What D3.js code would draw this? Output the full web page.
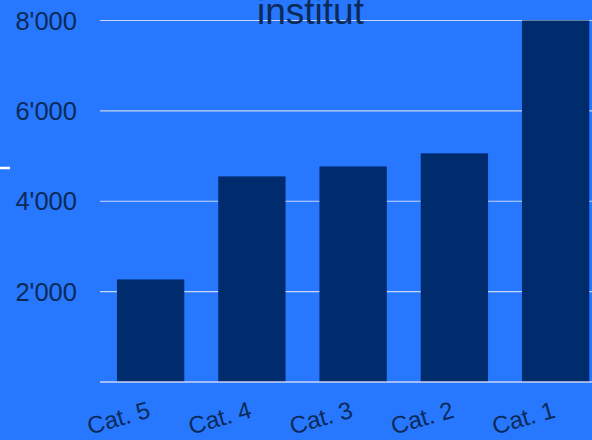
<!DOCTYPE html>
<html><head><meta charset="utf-8">
<script src="https://cdn.jsdelivr.net/npm/d3@7/dist/d3.min.js"></script>
<style>html,body{margin:0;padding:0;background:#2777FF;overflow:hidden}</style>
</head><body>
<svg id="c" width="592" height="440"></svg>
<script>
const categories = ["Cat. 5","Cat. 4","Cat. 3","Cat. 2","Cat. 1"];
const values = [2270, 4550, 4770, 5060, 8000];
const yTicks = [2000, 4000, 6000, 8000];
const yTickLabels = ["2'000","4'000","6'000","8'000"];
const title = "institut";

const svg = d3.select("#c");
svg.append("rect").attr("width",592).attr("height",440).attr("fill","#2777FF");

const x = d3.scaleBand().domain(categories).range([100, 606.25]).paddingInner(0.335).paddingOuter(0.1675);
const y = d3.scaleLinear().domain([0, 8000]).range([382, 20.5]);

const textCol = "#0B2A57";
const grid = svg.append("g");
grid.selectAll("line").data(yTicks).join("line")
  .attr("x1",100).attr("x2",592)
  .attr("y1",d=>y(d)).attr("y2",d=>y(d))
  .attr("stroke","#C8D6F5").attr("stroke-width",1.2);

svg.append("g").selectAll("rect").data(values).join("rect")
  .attr("x",(d,i)=>x(categories[i]))
  .attr("width",x.bandwidth())
  .attr("y",d=>y(d))
  .attr("height",d=>y(0)-y(d))
  .attr("fill","#002B6C");

svg.append("line").attr("x1",100).attr("x2",592).attr("y1",y(0)).attr("y2",y(0))
  .attr("stroke","#C8D6F5").attr("stroke-width",1.5);

svg.append("g").selectAll("text").data(yTicks).join("text")
  .attr("x",77).attr("y",d=>y(d))
  .attr("text-anchor","end").attr("dominant-baseline","central")
  .attr("font-family","Liberation Sans, Arial, sans-serif").attr("font-size",25.5)
  .attr("fill",textCol)
  .text((d,i)=>yTickLabels[i]);

svg.append("g").selectAll("text").data(categories).join("text")
  .attr("transform",d=>`translate(${x(d)+x.bandwidth()/2+1},${417}) rotate(-16)`)
  .attr("text-anchor","end")
  .attr("font-family","Liberation Sans, Arial, sans-serif").attr("font-size",24)
  .attr("fill",textCol)
  .text(d=>d);

svg.append("text").attr("x",310.5).attr("y",24)
  .attr("text-anchor","middle")
  .attr("font-family","Liberation Sans, Arial, sans-serif").attr("font-size",37)
  .attr("fill",textCol).text(title);

svg.append("line").attr("x1",0).attr("x2",10).attr("y1",168).attr("y2",168)
  .attr("stroke","#ffffff").attr("stroke-width",2.5);
</script>
</body></html>
